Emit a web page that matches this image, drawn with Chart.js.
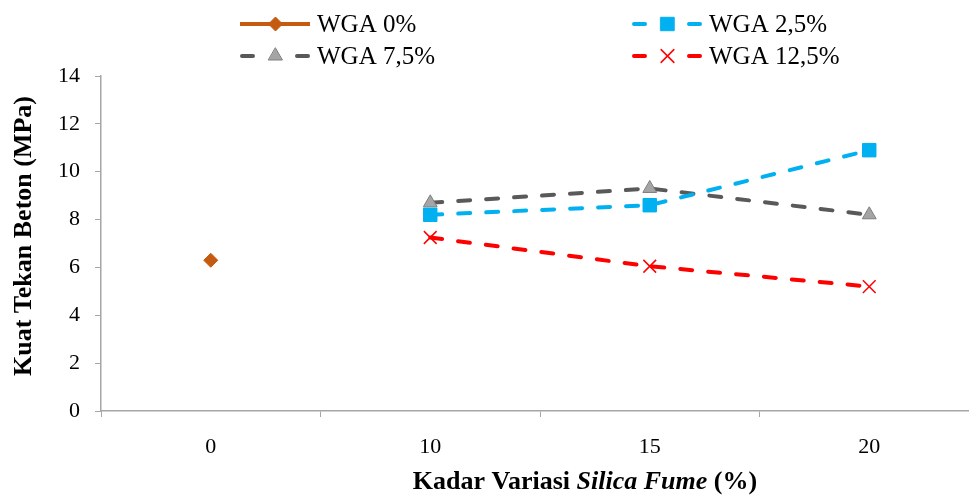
<!DOCTYPE html>
<html>
<head>
<meta charset="utf-8">
<script src="https://cdn.jsdelivr.net/npm/chart.js@4/dist/chart.umd.min.js"></script>
<style>
  html, body { margin: 0; padding: 0; background: #ffffff; overflow: hidden; }
  #wrap { width: 969px; height: 495px; overflow: hidden; }
  canvas { display: block; }
</style>
</head>
<body>
<div id="wrap"><canvas id="chart" width="990" height="495"></canvas></div>
<script>
// Silica fume content (%) on the x axis
const categories = ['0', '10', '15', '20'];

// Compressive strength (MPa) for each WGA replacement level
const wga0   = [6.3, null, null, null];
const wga25  = [null, 8.2, 8.6, 10.9];
const wga75  = [null, 8.7, 9.3, 8.2];
const wga125 = [null, 7.25, 6.05, 5.2];

const seriesLabels = ['WGA 0%', 'WGA 2,5%', 'WGA 7,5%', 'WGA 12,5%'];
const yTicks = { min: 0, max: 14, step: 2 };
const yTitle = 'Kuat Tekan Beton (MPa)';

const FONT = "'Liberation Serif', 'Times New Roman', serif";
const AXIS = '#a6a6a6';

const datasets = [
  {
    label: seriesLabels[0], data: wga0,
    borderColor: '#c55a11', backgroundColor: '#c55a11',
    borderWidth: 4, pointStyle: 'rectRot', pointRadius: 7,
    pointBackgroundColor: '#c55a11', pointBorderColor: '#c55a11', pointBorderWidth: 1,
    solid: true
  },
  {
    label: seriesLabels[1], data: wga25,
    borderColor: '#00b0f0', backgroundColor: '#00b0f0',
    borderWidth: 4, borderDash: [12, 16], borderCapStyle: 'round',
    pointStyle: 'rect', pointRadius: 9.5,
    pointBackgroundColor: '#00b0f0', pointBorderColor: '#00b0f0', pointBorderWidth: 1
  },
  {
    label: seriesLabels[2], data: wga75,
    borderColor: '#595959', backgroundColor: '#595959',
    borderWidth: 4, borderDash: [12, 16], borderCapStyle: 'round',
    pointStyle: 'triangle', pointRadius: 8,
    pointBackgroundColor: '#a5a5a5', pointBorderColor: '#7f7f7f', pointBorderWidth: 1
  },
  {
    label: seriesLabels[3], data: wga125,
    borderColor: '#ff0000', backgroundColor: '#ff0000',
    borderWidth: 4, borderDash: [12, 16], borderCapStyle: 'round',
    pointStyle: 'crossRot', pointRadius: 9,
    pointBackgroundColor: '#ff0000', pointBorderColor: '#ff0000', pointBorderWidth: 1.5
  }
];

// Two-column legend drawn above the plot
const legendPlugin = {
  id: 'twoColLegend',
  afterDraw(chart) {
    const ctx = chart.ctx;
    const slots = [
      { x: 240, y: 24 }, { x: 632, y: 24 },
      { x: 240, y: 56 }, { x: 632, y: 56 }
    ];
    chart.data.datasets.forEach((ds, i) => {
      const s = slots[i];
      const len = 70;
      const mx = s.x + len / 2 + 0.5;
      ctx.save();
      ctx.strokeStyle = ds.borderColor;
      ctx.lineWidth = ds.borderWidth;
      if (ds.solid) {
        ctx.lineCap = 'butt';
        ctx.beginPath();
        ctx.moveTo(s.x, s.y); ctx.lineTo(s.x + len, s.y);
        ctx.stroke();
      } else {
        ctx.lineCap = 'round';
        ctx.beginPath();
        ctx.moveTo(s.x + 2, s.y); ctx.lineTo(s.x + 13, s.y);
        ctx.moveTo(s.x + len - 13, s.y); ctx.lineTo(s.x + len - 2, s.y);
        ctx.stroke();
      }
      ctx.fillStyle = ds.pointBackgroundColor;
      ctx.strokeStyle = ds.pointBorderColor;
      ctx.lineWidth = ds.pointBorderWidth;
      ctx.setLineDash([]);
      Chart.helpers.drawPoint(ctx, {
        pointStyle: ds.pointStyle, radius: ds.pointRadius,
        rotation: 0, borderWidth: ds.pointBorderWidth
      }, mx, s.y);
      ctx.fillStyle = '#000000';
      ctx.font = '25px ' + FONT;
      ctx.textBaseline = 'middle';
      ctx.textAlign = 'left';
      ctx.fillText(ds.label, s.x + len + 7, s.y + 1);
      ctx.restore();
    });
  }
};

// Axis titles: rotated y title and x title with italic "Silica Fume"
const titlePlugin = {
  id: 'axisTitles',
  afterDraw(chart) {
    const ctx = chart.ctx;
    ctx.save();
    ctx.fillStyle = '#000000';
    ctx.textBaseline = 'middle';

    ctx.save();
    ctx.translate(24, 236);
    ctx.rotate(-Math.PI / 2);
    ctx.font = 'bold 26px ' + FONT;
    ctx.textAlign = 'center';
    ctx.fillText(yTitle, 0, 0);
    ctx.restore();

    const parts = [
      { t: 'Kadar Variasi ', f: 'bold 26px ' + FONT },
      { t: 'Silica Fume', f: 'italic bold 26px ' + FONT },
      { t: ' (%)', f: 'bold 26px ' + FONT }
    ];
    let total = 0;
    parts.forEach(p => { ctx.font = p.f; p.w = ctx.measureText(p.t).width; total += p.w; });
    let x = 585 - total / 2;
    ctx.textAlign = 'left';
    parts.forEach(p => { ctx.font = p.f; ctx.fillText(p.t, x, 482); x += p.w; });
    ctx.restore();
  }
};

new Chart(document.getElementById('chart'), {
  type: 'line',
  data: { labels: categories, datasets: datasets },
  options: {
    responsive: false,
    animation: false,
    devicePixelRatio: 1,
    spanGaps: false,
    layout: { padding: { top: 76, left: 0, right: 11, bottom: 0 } },
    plugins: { legend: { display: false }, tooltip: { enabled: false } },
    scales: {
      x: {
        type: 'category',
        offset: true,
        grid: { offset: true, drawOnChartArea: false, drawTicks: true, tickLength: 6, color: AXIS, lineWidth: 1 },
        border: { display: true, color: AXIS, width: 1.5 },
        ticks: { color: '#000000', font: { family: FONT, size: 22 }, padding: 17, maxRotation: 0 },
        afterFit(scale) { scale.height = 84; }
      },
      y: {
        min: yTicks.min, max: yTicks.max,
        grid: { drawOnChartArea: false, drawTicks: true, tickLength: 6, color: AXIS, lineWidth: 1 },
        border: { display: true, color: AXIS, width: 1.5 },
        ticks: { stepSize: yTicks.step, color: '#000000', font: { family: FONT, size: 22 }, padding: 15 },
        afterFit(scale) { scale.width = 101; }
      }
    }
  },
  plugins: [legendPlugin, titlePlugin]
});
</script>
</body>
</html>
